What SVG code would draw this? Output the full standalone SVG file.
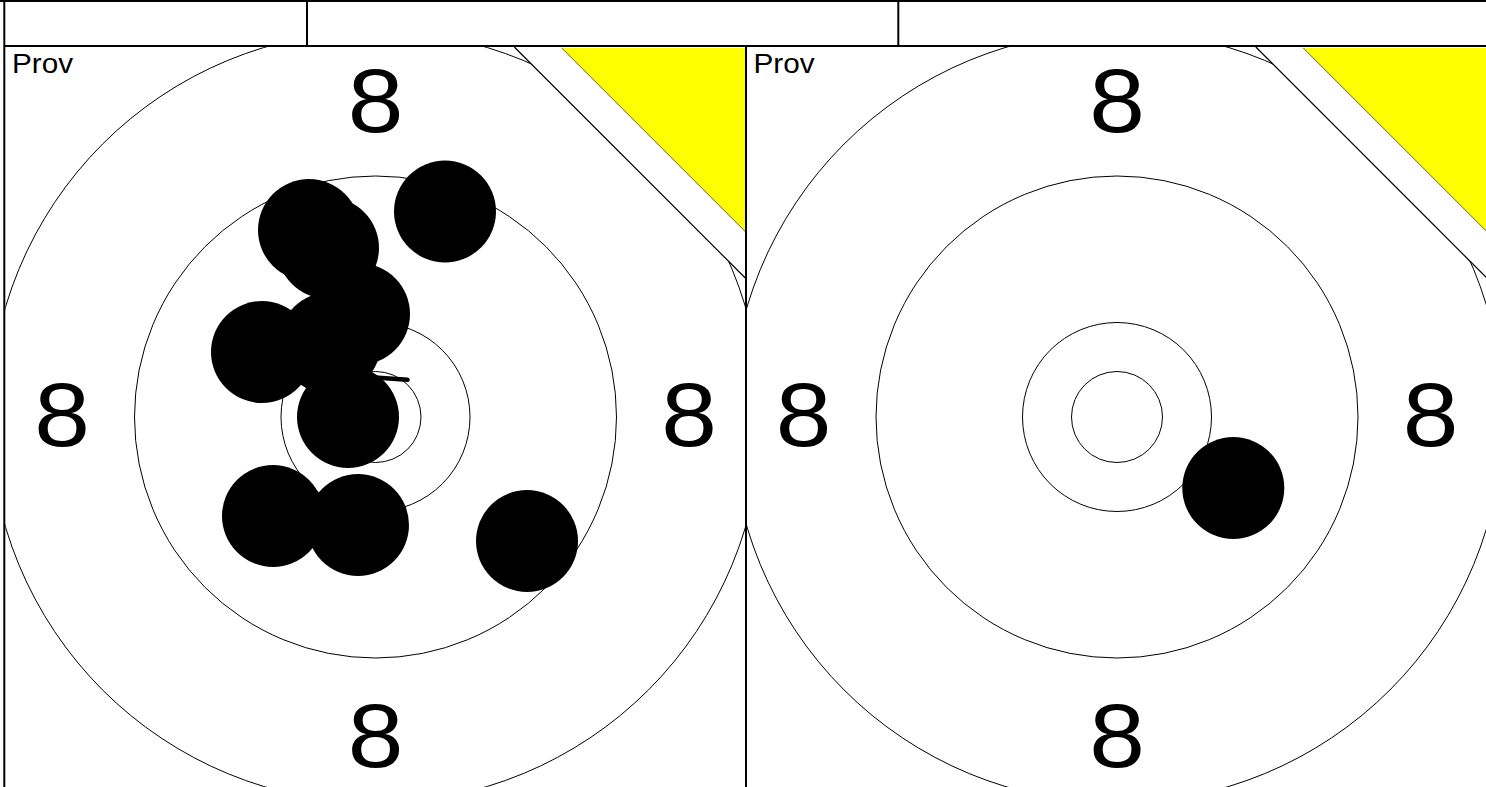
<svg xmlns="http://www.w3.org/2000/svg" width="1486" height="787" viewBox="0 0 1486 787">
<defs>
<style>
.ring{fill:none;stroke:#000;stroke-width:1}
.shot{fill:#000}
.lbl{font-family:"Liberation Sans",Arial,sans-serif;font-size:91px;fill:#000;text-anchor:middle}
.prov{font-family:"Liberation Sans",Arial,sans-serif;font-size:27px;fill:#000}
.frame{fill:none;stroke:#000;stroke-width:2}
.diag{stroke:#000;stroke-width:1.2;fill:none}
.ydiag{stroke:#333;stroke-width:0.8;fill:none}
</style>
<clipPath id="panelClip"><rect x="5.3" y="47" width="740" height="745"/></clipPath>
</defs>
<rect width="1486" height="787" fill="#fff"/>

<g id="header">
<line class="frame" x1="0" y1="1" x2="1486" y2="1"/>
<line class="frame" x1="4.3" y1="46" x2="1486" y2="46" stroke-width="1.6"/>
<line class="frame" x1="307" y1="1" x2="307" y2="46"/>
<line class="frame" x1="898.3" y1="1" x2="898.3" y2="46"/>
</g>

<g id="panel-left">
<g id="face-left">
<g clip-path="url(#panelClip)"><circle class="ring" cx="375.5" cy="417" r="386"/></g>
<circle class="ring" cx="375.5" cy="417" r="241"/>
<circle class="ring" cx="375.5" cy="417" r="94.5"/>
<circle class="ring" cx="375.5" cy="417" r="45.5"/>
<polygon points="514.3,47 745.3,278 745.3,47" fill="#fff"/>
<line class="diag" x1="514.3" y1="47" x2="745.3" y2="278"/>
<polygon points="561.7,48 745.3,231.6 745.3,48" fill="#ff0"/>
<line class="ydiag" x1="561.7" y1="48" x2="745.3" y2="231.6"/>
<text class="prov" transform="translate(12,72.5) scale(1.1,1)">Prov</text>
<text class="lbl" transform="translate(375.5,131.7) scale(1.1,1)">8</text>
<text class="lbl" transform="translate(62,445.7) scale(1.1,1)">8</text>
<text class="lbl" transform="translate(689,445.7) scale(1.1,1)">8</text>
<text class="lbl" transform="translate(375.5,767) scale(1.1,1)">8</text>
</g>
<g id="shots-left">
<path d="M371,377.3 L407.5,379.8" stroke="#000" stroke-width="4.6" stroke-linecap="round" fill="none"/>
<circle class="shot" cx="445" cy="211.5" r="51"/>
<circle class="shot" cx="309" cy="230" r="51"/>
<circle class="shot" cx="328" cy="248" r="51"/>
<circle class="shot" cx="359" cy="314" r="51"/>
<circle class="shot" cx="262" cy="352" r="51"/>
<circle class="shot" cx="330" cy="343" r="51"/>
<circle class="shot" cx="348" cy="417" r="51"/>
<circle class="shot" cx="273" cy="516" r="51"/>
<circle class="shot" cx="358" cy="525" r="51"/>
<circle class="shot" cx="527" cy="541" r="51"/>
</g>
<line class="frame" x1="4.3" y1="1" x2="4.3" y2="787"/>
<line class="frame" x1="746" y1="46" x2="746" y2="787"/>
</g>

<g id="panel-right" transform="translate(741.5,0)">
<g id="face-right">
<g clip-path="url(#panelClip)"><circle class="ring" cx="375.5" cy="417" r="386"/></g>
<circle class="ring" cx="375.5" cy="417" r="241"/>
<circle class="ring" cx="375.5" cy="417" r="94.5"/>
<circle class="ring" cx="375.5" cy="417" r="45.5"/>
<polygon points="514.3,47 745.3,278 745.3,47" fill="#fff"/>
<line class="diag" x1="514.3" y1="47" x2="745.3" y2="278"/>
<polygon points="561.7,48 745.3,231.6 745.3,48" fill="#ff0"/>
<line class="ydiag" x1="561.7" y1="48" x2="745.3" y2="231.6"/>
<text class="prov" transform="translate(12,72.5) scale(1.1,1)">Prov</text>
<text class="lbl" transform="translate(375.5,131.7) scale(1.1,1)">8</text>
<text class="lbl" transform="translate(62,445.7) scale(1.1,1)">8</text>
<text class="lbl" transform="translate(689,445.7) scale(1.1,1)">8</text>
<text class="lbl" transform="translate(375.5,767) scale(1.1,1)">8</text>
</g>
<g id="shots-right">
<circle class="shot" cx="491.8" cy="488" r="51"/>
</g>
</g>
</svg>
